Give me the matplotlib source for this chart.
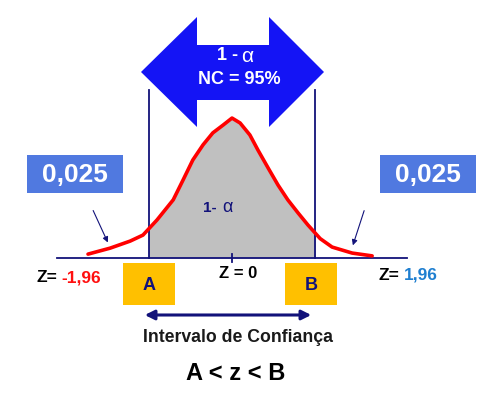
import numpy as np
import matplotlib
matplotlib.use("Agg")
import matplotlib.pyplot as plt
from matplotlib.patches import Polygon, Rectangle, FancyArrowPatch

plt.rcParams["font.family"] = ["Liberation Sans", "DejaVu Sans"]

# curve (z, density)
z_vals = [-3.38, -2.86, -2.39, -2.09, -1.76, -1.38, -1.15, -0.92, -0.68, -0.45,
          -0.21, 0.00, 0.19, 0.42, 0.61, 0.85, 1.08, 1.31, 1.55, 1.78,
          2.07, 2.35, 2.82, 3.29]
dens = [0.011, 0.028, 0.048, 0.065, 0.108, 0.165, 0.221, 0.278, 0.321, 0.355,
        0.377, 0.397, 0.383, 0.349, 0.306, 0.255, 0.207, 0.165, 0.128, 0.094,
        0.055, 0.031, 0.014, 0.006]
z_crit = [-1.96, 1.96]
tail_label = "0,025"
conf_label = "NC = 95%"

NAVY = "#12127a"
BLUE = "#1414f5"
BOXBLUE = "#5079e0"
GOLD = "#ffc000"

fig = plt.figure(figsize=(4.94, 4.0), dpi=100)

# data axes: z on x, density on y
ax = fig.add_axes([0, 0, 1, 1])
ax.set_xlim(-232 / 42.6, (494 - 232) / 42.6)
ax.set_ylim(-142 / 352.5, 258 / 352.5)
ax.axis("off")

z = np.array(z_vals)
d = np.array(dens)

# shaded central area
inside = (z > z_crit[0]) & (z < z_crit[1])
zf = np.concatenate([[z_crit[0]], z[inside], [z_crit[1]]])
df = np.concatenate([[np.interp(z_crit[0], z, d)], d[inside], [np.interp(z_crit[1], z, d)]])
ax.fill_between(zf, 0, df, color="#c0c0c0", lw=0, zorder=1)

ax.plot([-4.11, 4.11], [0, 0], color=NAVY, lw=1.3, zorder=2)
ax.plot([0, 0], [-0.012, 0.012], color=NAVY, lw=1.3, zorder=2)
for zc in z_crit:
    ax.plot([zc, zc], [0, 0.477], color=NAVY, lw=1.3, zorder=3)
ax.plot(z, d, color="#ff0000", lw=2.6, solid_capstyle="round",
        solid_joinstyle="round", zorder=4)

# overlay axes in pixel units for annotations
ov = fig.add_axes([0, 0, 1, 1])
ov.set_xlim(0, 494)
ov.set_ylim(400, 0)
ov.axis("off")
ov.patch.set_alpha(0)

arrow_pts = [(141, 72), (197, 17), (197, 45), (269, 45), (269, 17), (324, 72),
             (269, 127), (269, 100), (197, 100), (197, 127)]
ov.add_patch(Polygon(arrow_pts, closed=True, facecolor=BLUE, edgecolor="none", zorder=5))
ov.text(238, 56, "1 -", color="white", fontsize=13, fontweight="bold",
        ha="right", va="center", zorder=6)
ov.text(241, 57, "α", color="white", fontsize=15, ha="left", va="center", zorder=6)
ov.text(239, 79, conf_label, color="white", fontsize=13, fontweight="bold",
        ha="center", va="center", zorder=6)

ov.text(217, 208, "1-", color=NAVY, fontsize=11, fontweight="bold",
        ha="right", va="center")
ov.text(222, 208, "α", color=NAVY, fontsize=13, ha="left", va="center")

# tail boxes
for x0 in (27, 380):
    ov.add_patch(Rectangle((x0, 155), 96, 38, facecolor=BOXBLUE, edgecolor="none"))
    ov.text(x0 + 48, 175, tail_label, color="white", fontsize=19, fontweight="bold",
            ha="center", va="center")
ov.annotate("", xy=(109, 245), xytext=(92, 208),
            arrowprops=dict(arrowstyle="-|>", color=NAVY, lw=0.8, mutation_scale=8))
ov.annotate("", xy=(352, 248), xytext=(365, 208),
            arrowprops=dict(arrowstyle="-|>", color=NAVY, lw=0.8, mutation_scale=8))

# z labels
ov.text(57, 278, "Z=", color="black", fontsize=12.5, fontweight="bold", ha="right", va="center")
ov.text(61, 278, "-1,96", color="#ff1010", fontsize=12.5, fontweight="bold", ha="left", va="center")
ov.text(399, 275, "Z=", color="black", fontsize=12.5, fontweight="bold", ha="right", va="center")
ov.text(404, 275, "1,96", color="#1f7fd0", fontsize=12.5, fontweight="bold", ha="left", va="center")
ov.text(238, 274, "Z = 0", color="black", fontsize=12, fontweight="bold", ha="center", va="center")

# A and B boxes
for x0, lab in ((123, "A"), (285, "B")):
    ov.add_patch(Rectangle((x0, 263), 52, 42, facecolor=GOLD, edgecolor="none"))
    ov.text(x0 + 26, 285, lab, color=NAVY, fontsize=13, fontweight="bold",
            ha="center", va="center")

ov.add_patch(FancyArrowPatch((142, 315), (314, 315), arrowstyle="<|-|>",
                             mutation_scale=14, color=NAVY, lw=2.2))
ov.text(238, 338, "Intervalo de Confiança", color="#1a1a1a", fontsize=12.7,
        fontweight="bold", ha="center", va="center")
ov.text(236, 374, "A < z < B", color="black", fontsize=17, fontweight="bold",
        ha="center", va="center")

fig.savefig("out.png", dpi=100)
